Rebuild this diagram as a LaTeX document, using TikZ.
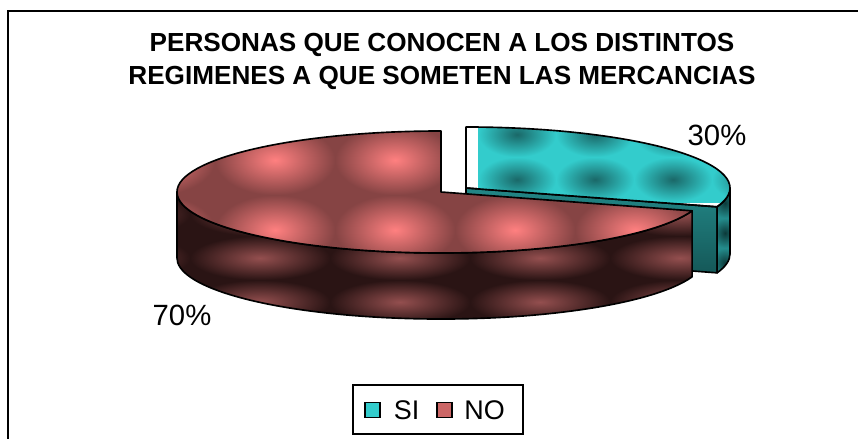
\documentclass[tikz,border=0pt]{standalone}
\usepackage{fontspec}
\setmainfont{Liberation Sans}
\usetikzlibrary{positioning}

\definecolor{nolight}{HTML}{FF8080}
\definecolor{nodark}{HTML}{864444}
\definecolor{noside}{HTML}{944F4F}
\definecolor{nodeep}{HTML}{2A1414}
\definecolor{silight}{HTML}{33CCCC}
\definecolor{sidark}{HTML}{1A6868}
\definecolor{siside}{HTML}{248C8C}
\definecolor{sideep}{HTML}{0C3A3A}

\tikzset{
  rim/.style={draw=black, line width=1.4pt, line join=round},
  pct/.style={font=\fontsize{25}{29}\selectfont, inner sep=0pt},
  titleline/.style={font=\fontsize{22.3}{26}\selectfont\bfseries, inner sep=0pt},
  swatch/.style={draw=black, line width=1.3pt, minimum size=0.45cm, inner sep=0pt},
  legtext/.style={font=\fontsize{23}{27}\selectfont, inner sep=0pt},
}

\begin{document}
\begin{tikzpicture}[x=0.03cm, y=0.03cm]
  \useasboundingbox (0,0) rectangle (858,438);
  \begin{scope}
    \clip (0,0) rectangle (858,438);
    \draw[line width=1.3pt] (8,-10) |- (870,427);
  \end{scope}

  % centres %
  \coordinate (rc) at (441,246);
  \coordinate (tc) at (466,250);

  % SI slice %
  \begin{scope}
    \clip (tc) -- ++(-18:264 and 61) -- ++(0,-66) -- (466,184) -- cycle;
    \shade[top color=siside, bottom color=sideep] (460,110) rectangle (740,260);
  \end{scope}
  \draw[rim] (tc) -- ++(-18:264 and 61) -- ++(0,-66) -- (466,184) -- cycle;
  \begin{scope}
    \clip (tc) ++(-18:264 and 61) arc[start angle=-18, end angle=0, x radius=264, y radius=61]
      -- ++(0,-66) arc[start angle=0, end angle=-18, x radius=264, y radius=61] -- cycle;
    \foreach \j in {0,1,2}
      \shade[inner color=sideep, outer color=siside] (712,160+30*\j) rectangle ++(26,30);
  \end{scope}
  \draw[rim] (tc) ++(-18:264 and 61) arc[start angle=-18, end angle=0, x radius=264, y radius=61]
    -- ++(0,-66) arc[start angle=0, end angle=-18, x radius=264, y radius=61] -- cycle;
  \begin{scope}
    \clip (tc) -- ++(0,61) arc[start angle=90, end angle=-18, x radius=264, y radius=61] -- cycle;
    \foreach \i in {0,...,3}
      \foreach \j in {0,1}
        \shade[inner color=sidark, outer color=silight] (478+78*\i,236+45*\j) rectangle ++(78,45);
  \end{scope}
  \draw[rim] (tc) -- ++(0,61) arc[start angle=90, end angle=-18, x radius=264, y radius=61] -- cycle;

  % NO slice %
  \begin{scope}
    \clip (rc) ++(180:264 and 61) arc[start angle=180, end angle=342, x radius=264, y radius=61]
      -- ++(0,-66) arc[start angle=342, end angle=180, x radius=264, y radius=61] -- cycle;
    \foreach \i in {0,...,4}
      \foreach \j in {0,1,2}
        \shade[inner color=noside, outer color=nodeep] (50+140*\i,114+44*\j) rectangle ++(140,44);
  \end{scope}
  \draw[rim] (rc) ++(180:264 and 61) arc[start angle=180, end angle=342, x radius=264, y radius=61]
    -- ++(0,-66) arc[start angle=342, end angle=180, x radius=264, y radius=61] -- cycle;
  \begin{scope}
    \clip (rc) -- ++(0,61) arc[start angle=90, end angle=342, x radius=264, y radius=61] -- cycle;
    \foreach \i in {0,...,5}
      \foreach \j in {0,1}
        \shade[inner color=nolight, outer color=nodark] (95+120*\i,173+70*\j) rectangle ++(120,70);
  \end{scope}
  \draw[rim] (rc) -- ++(0,61) arc[start angle=90, end angle=342, x radius=264, y radius=61] -- cycle;

  % texts %
  \node[titleline, anchor=base] (title1) at (442,386) {PERSONAS QUE CONOCEN A LOS DISTINTOS};
  \node[titleline, anchor=base] (title2) at (442,353) {REGIMENES A QUE SOMETEN LAS MERCANCIAS};
  \node[pct, anchor=base] (pctsi) at (717,292) {30\%};
  \node[pct, anchor=base] (pctno) at (182,113) {70\%};

  % legend %
  \node[draw=black, line width=1.3pt, minimum width=5.1cm, minimum height=1.47cm] (legend) at (438,28.5) {};
  \node[swatch, fill=silight] (siswatch) at (372.5,28) {};
  \node[legtext, right=11pt of siswatch] (si) {SI};
  \node[swatch, fill=nolight!80!black, right=14pt of si] (noswatch) {};
  \node[legtext, right=10pt of noswatch] (no) {NO};
\end{tikzpicture}
\end{document}
